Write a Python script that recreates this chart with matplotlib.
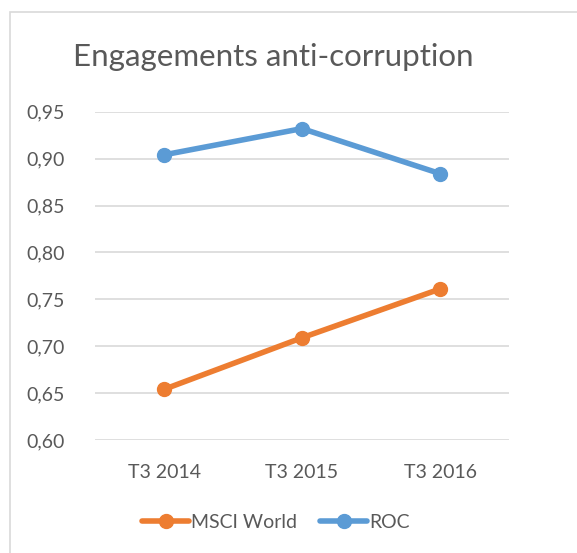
import matplotlib
matplotlib.use("Agg")
import matplotlib.pyplot as plt
from matplotlib.patches import Rectangle

categories = ["T3 2014", "T3 2015", "T3 2016"]
msci_world = [0.654, 0.709, 0.761]
roc = [0.904, 0.932, 0.884]
yticks = [0.60, 0.65, 0.70, 0.75, 0.80, 0.85, 0.90, 0.95]
ytick_labels = ["0,60", "0,65", "0,70", "0,75", "0,80", "0,85", "0,90", "0,95"]

W, H = 577, 553
fig = plt.figure(figsize=(W / 100, H / 100), dpi=100)
plt.rcParams['font.family'] = ['Lato', 'DejaVu Sans']
txt = "#595959"

# chart border
fig.patches.append(Rectangle((10 / W, -0.01), 1.0, 1 - 12 / H + 0.01, transform=fig.transFigure,
                             fill=False, edgecolor="#D9D9D9", linewidth=1.2))

ax = fig.add_axes([95 / W, 1 - 440 / H, (509 - 95) / W, (440 - 111.7) / H])
x = list(range(len(categories)))
ax.plot(x, msci_world, color="#ED7D31", linewidth=4, marker="o", markersize=10, label="MSCI World",
        solid_capstyle="round", zorder=3)
ax.plot(x, roc, color="#5B9BD5", linewidth=4, marker="o", markersize=10, label="ROC",
        solid_capstyle="round", zorder=3)

ax.set_xlim(-0.5, 2.5)
ax.set_ylim(0.60, 0.95)
ax.set_yticks(yticks)
ax.set_yticklabels(ytick_labels)
ax.set_xticks(x)
ax.set_xticklabels(categories)
ax.tick_params(axis="both", length=0, labelsize=14, labelcolor=txt)
ax.tick_params(axis="y", pad=22)
ax.tick_params(axis="x", pad=17)
ax.grid(axis="y", color="#D9D9D9", linewidth=1.2)
ax.set_axisbelow(True)
for s in ax.spines.values():
    s.set_visible(False)

fig.text(273 / W, 1 - 57 / H, "Engagements anti-corruption", ha="center", va="center",
         fontsize=22.5, color=txt)

leg = fig.legend(loc="center", bbox_to_anchor=(276 / W, 1 - 522 / H), ncol=2, frameon=False,
                 fontsize=14, labelcolor=txt, handlelength=2.4, handletextpad=0.1, columnspacing=1.2)

fig.savefig("out.png", dpi=100)
